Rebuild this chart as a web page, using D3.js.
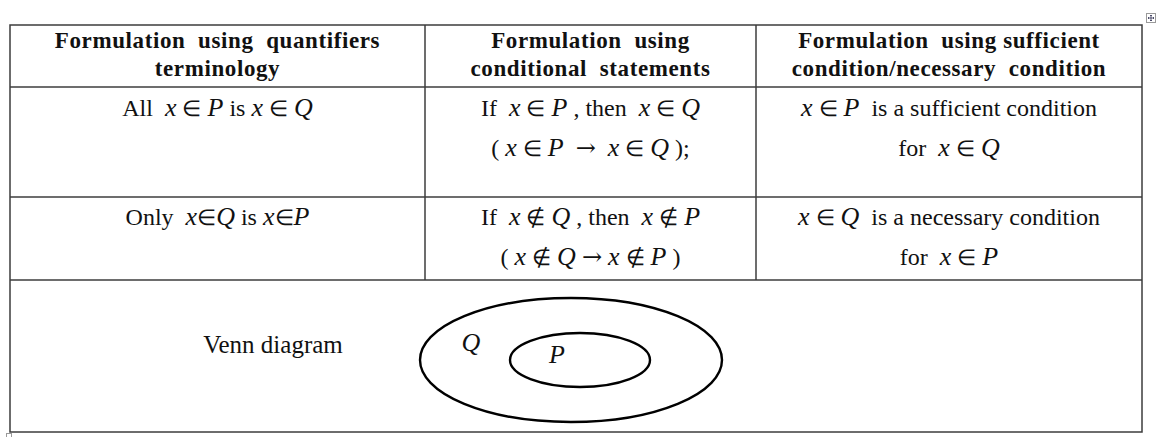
<!DOCTYPE html>
<html>
<head>
<meta charset="utf-8">
<script src="https://cdn.jsdelivr.net/npm/d3@7"></script>
<style>
  body { margin: 0; background: #fff; }
  svg { display: block; }
</style>
</head>
<body>
<div id="chart"></div>
<script>
// table text, _x_ marks an italic (math) symbol
const headers = [
  ["Formulation  using  quantifiers", "terminology"],
  ["Formulation  using", "conditional  statements"],
  ["Formulation  using sufficient", "condition/necessary  condition"]
];
const rowOne = [
  ["All  _x_ ∈ _P_ is _x_ ∈ _Q_"],
  ["If  _x_ ∈ _P_ , then  _x_ ∈ _Q_", "( _x_ ∈ _P_  →  _x_ ∈ _Q_ );"],
  ["_x_ ∈ _P_  is a sufficient condition", "for  _x_ ∈ _Q_"]
];
const rowTwo = [
  ["Only  _x_∈_Q_ is _x_∈_P_"],
  ["If  _x_ ∉ _Q_ , then  _x_ ∉ _P_", "( _x_ ∉ _Q_ → _x_ ∉ _P_ )"],
  ["_x_ ∈ _Q_  is a necessary condition", "for  _x_ ∈ _P_"]
];
const vennLabel = "Venn diagram";
const vennSets = ["Q", "P"];

const W = 1156, H = 437;
const colEdges = [10, 425, 756, 1142];
const rowEdges = [25, 87, 197, 280, 432];
const baselines = [[48, 76], [116, 156], [225, 265]];
const bodySize = 24, mathSize = 26, symSize = 22, headSize = 23;

const svg = d3.select("#chart").append("svg")
    .attr("width", W)
    .attr("height", H)
    .style("font-family", "'Liberation Serif', 'Times New Roman', serif");

const colCenter = i => (colEdges[i] + colEdges[i + 1]) / 2;

// split "_x_" markup into plain / italic / symbol pieces
function pieces(str) {
    const out = [];
    str.split("_").forEach((s, i) => {
        if (!s.length) return;
        if (i % 2 === 1) { out.push({ s: s, kind: "it" }); return; }
        s.split(/([∈∉→])/).forEach(p => {
            if (!p.length) return;
            out.push({ s: p, kind: /[∈∉→]/.test(p) ? (p === "→" ? "arrow" : "sym") : "txt" });
        });
    });
    return out;
}

function writeCell(g, lines, cx, ys, bold) {
    lines.forEach((line, li) => {
        const t = g.append("text")
            .attr("x", cx)
            .attr("y", ys[li])
            .attr("text-anchor", "middle")
            .style("white-space", "pre")
            .attr("fill", "#111");
        if (bold) {
            t.attr("font-size", headSize).attr("font-weight", "bold")
                .attr("letter-spacing", 0.6).text(line);
            return;
        }
        t.attr("font-size", bodySize);
        pieces(line).forEach(p => {
            const ts = t.append("tspan").text(p.s);
            if (p.kind === "it") ts.attr("font-style", "italic").attr("font-size", mathSize);
            if (p.kind === "sym") ts.attr("font-size", symSize);
            if (p.kind === "arrow") ts.attr("font-family", "'DejaVu Serif', serif").attr("font-size", 24);
        });
    });
}

const grid = svg.append("g");
const textG = svg.append("g");

headers.forEach((h, i) => writeCell(textG, h, colCenter(i), baselines[0], true));
rowOne.forEach((c, i) => writeCell(textG, c, colCenter(i), baselines[1], false));
rowTwo.forEach((c, i) => writeCell(textG, c, colCenter(i), baselines[2], false));

// grid lines
const lineColor = "#3c3c3c";
grid.append("rect")
    .attr("x", colEdges[0]).attr("y", rowEdges[0])
    .attr("width", colEdges[3] - colEdges[0])
    .attr("height", rowEdges[4] - rowEdges[0])
    .attr("fill", "none").attr("stroke", lineColor).attr("stroke-width", 1.5);

grid.selectAll("line.h")
    .data(rowEdges.slice(1, 4))
    .enter().append("line")
    .attr("class", "h")
    .attr("x1", colEdges[0]).attr("x2", colEdges[3])
    .attr("y1", d => d).attr("y2", d => d)
    .attr("stroke", lineColor).attr("stroke-width", 1.5);

grid.selectAll("line.v")
    .data(colEdges.slice(1, 3))
    .enter().append("line")
    .attr("class", "v")
    .attr("x1", d => d).attr("x2", d => d)
    .attr("y1", rowEdges[0]).attr("y2", rowEdges[3])
    .attr("stroke", lineColor).attr("stroke-width", 1.5);

// Venn row
textG.append("text")
    .attr("x", 273).attr("y", 353)
    .attr("text-anchor", "middle")
    .attr("font-size", 25)
    .attr("fill", "#111")
    .text(vennLabel);

const venn = [
    { cx: 571, cy: 360, rx: 151, ry: 62, lx: 471, ly: 351 },
    { cx: 580, cy: 360, rx: 70, ry: 27, lx: 557, ly: 363 }
];
const vg = svg.append("g");
vg.selectAll("ellipse")
    .data(venn)
    .enter().append("ellipse")
    .attr("cx", d => d.cx).attr("cy", d => d.cy)
    .attr("rx", d => d.rx).attr("ry", d => d.ry)
    .attr("fill", "none").attr("stroke", "#000").attr("stroke-width", 2.4);
vg.selectAll("text")
    .data(venn)
    .enter().append("text")
    .attr("x", d => d.lx).attr("y", d => d.ly)
    .attr("text-anchor", "middle")
    .attr("font-size", 26).attr("font-style", "italic")
    .attr("fill", "#111")
    .text((d, i) => vennSets[i]);

// little table handles (move / resize)
const hd = svg.append("g");
hd.append("rect").attr("x", 1146.5).attr("y", 13.5).attr("width", 9).attr("height", 9)
    .attr("fill", "#fff").attr("stroke", "#9a9a9a");
hd.append("path")
    .attr("d", "M1151,15 V21 M1148,18 H1154 M1150,16 L1151,15 L1152,16 M1150,20 L1151,21 L1152,20 M1149,17 L1148,18 L1149,19 M1153,17 L1154,18 L1153,19")
    .attr("fill", "none").attr("stroke", "#335").attr("stroke-width", 0.8);
hd.append("rect").attr("x", 6.5).attr("y", 433.5).attr("width", 5).attr("height", 4)
    .attr("fill", "#fff").attr("stroke", "#9a9a9a");
</script>
</body>
</html>
